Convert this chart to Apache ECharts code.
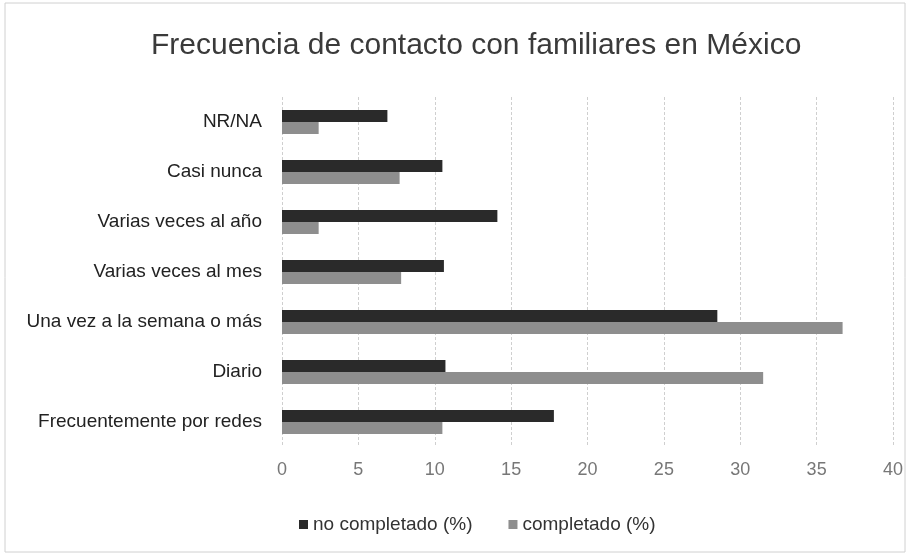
<!DOCTYPE html>
<html><head><meta charset="utf-8">
<script src="https://cdn.jsdelivr.net/npm/echarts@6/dist/echarts.min.js"></script>
<style>html,body{margin:0;padding:0;background:#fff}#c{width:911px;height:557px}</style>
</head><body><div id="c"></div>
<script>
const categories = ['NR/NA','Casi nunca','Varias veces al año','Varias veces al mes','Una vez a la semana o más','Diario','Frecuentemente por redes'];
const noCompletado = [6.9, 10.5, 14.1, 10.6, 28.5, 10.7, 17.8];
const completado = [2.4, 7.7, 2.4, 7.8, 36.7, 31.5, 10.5];
const xTicks = [0,5,10,15,20,25,30,35,40];
const FONT = "'Liberation Sans', sans-serif";
const chart = echarts.init(document.getElementById('c'));
chart.setOption({
  animation:false,
  backgroundColor:'#fff',
  graphic:[{type:'rect',shape:{x:5,y:3,width:900,height:549},style:{fill:'none',stroke:'#d0d0d0',lineWidth:1}}],
  title:{text:'Frecuencia de contacto con familiares en México',left:146,top:26,
    textStyle:{fontFamily:FONT,fontSize:30,fontWeight:'normal',color:'#3a3a3a'}},
  legend:{bottom:18,left:294,itemWidth:9,itemHeight:9,itemGap:36,icon:'rect',
    textStyle:{fontFamily:FONT,fontSize:19,color:'#333'}},
  grid:{left:282,right:18,top:97,bottom:110},
  xAxis:{type:'value',min:0,max:40,interval:5,
    axisLine:{show:false},axisTick:{show:false},
    axisLabel:{fontFamily:FONT,fontSize:18,color:'#777',margin:14,
      formatter:v=>xTicks.includes(v)?String(v):''},
    splitLine:{lineStyle:{color:'#cfcfcf',type:[3,2]}}},
  yAxis:{type:'category',inverse:true,data:categories,
    axisLine:{show:false},axisTick:{show:false},
    axisLabel:{fontFamily:FONT,fontSize:19,color:'#222',margin:20}},
  series:[
    {name:'no completado (%)',type:'bar',data:noCompletado,barGap:'0%',barCategoryGap:'52%',
      itemStyle:{color:'#2a2a2a'}},
    {name:'completado (%)',type:'bar',data:completado,
      itemStyle:{color:'#8e8e8e'}}
  ]
});
</script></body></html>
